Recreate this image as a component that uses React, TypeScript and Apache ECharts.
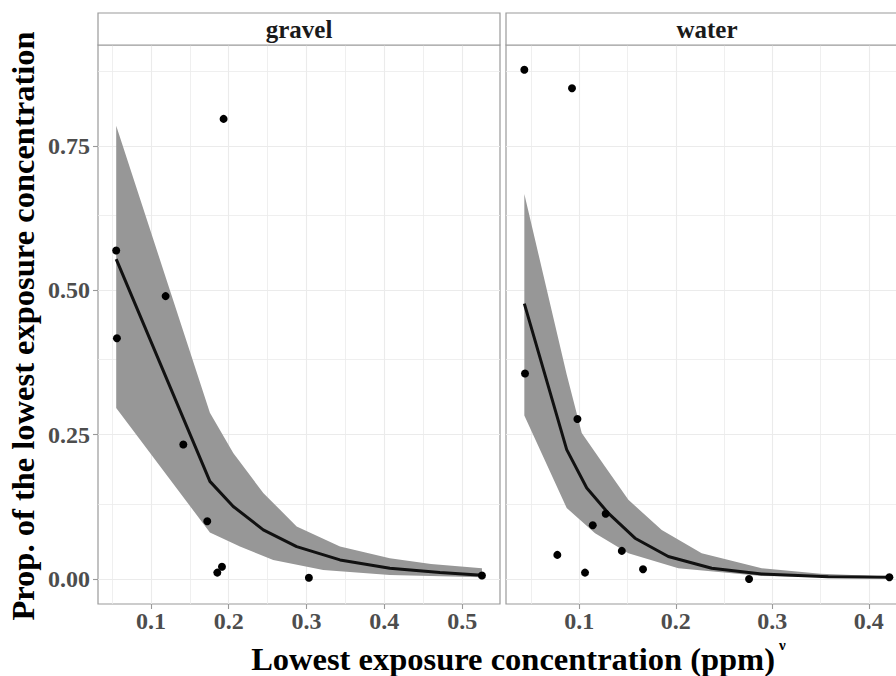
import React, { useEffect, useRef } from "react";
import * as echarts from "echarts";

// ---------- data ----------
const panels = ["gravel", "water"];

const gravelPointsX = [0.0554, 0.0563, 0.1189, 0.1416, 0.1724, 0.1853, 0.1913, 0.1934, 0.303, 0.5254];
const gravelPointsY = [0.569, 0.417, 0.49, 0.233, 0.1, 0.011, 0.021, 0.797, 0.002, 0.006];

const gravelFitX = [0.0554, 0.1758, 0.2058, 0.2444, 0.2873, 0.343, 0.407, 0.4715, 0.5254];
const gravelFitY = [0.554, 0.169, 0.1256, 0.085, 0.056, 0.033, 0.0185, 0.011, 0.0064];
const gravelUpperX = [0.0554, 0.1758, 0.2058, 0.2444, 0.2873, 0.343, 0.407, 0.46, 0.5254];
const gravelUpperY = [0.785, 0.288, 0.218, 0.149, 0.091, 0.056, 0.036, 0.026, 0.0185];
const gravelLowerX = [0.0554, 0.1758, 0.2144, 0.2572, 0.3215, 0.407, 0.5254];
const gravelLowerY = [0.296, 0.0805, 0.056, 0.033, 0.0156, 0.007, 0.003];

const waterPointsX = [0.043, 0.0924, 0.0437, 0.098, 0.1273, 0.1139, 0.0772, 0.144, 0.1059, 0.166, 0.2759, 0.4213];
const waterPointsY = [0.882, 0.85, 0.356, 0.277, 0.113, 0.093, 0.0417, 0.0486, 0.011, 0.0168, 0.0, 0.003];

const waterFitX = [0.043, 0.0869, 0.1077, 0.13, 0.1577, 0.1922, 0.2372, 0.289, 0.358, 0.4213];
const waterFitY = [0.477, 0.224, 0.1575, 0.114, 0.0706, 0.0388, 0.0185, 0.0087, 0.004, 0.003];
const waterUpperX = [0.043, 0.0869, 0.1025, 0.1266, 0.1508, 0.1854, 0.2268, 0.289, 0.35, 0.4213];
const waterUpperY = [0.667, 0.354, 0.253, 0.195, 0.137, 0.085, 0.0446, 0.0185, 0.009, 0.0043];
const waterLowerX = [0.043, 0.0869, 0.1163, 0.1508, 0.2026, 0.289, 0.4213];
const waterLowerY = [0.283, 0.1227, 0.079, 0.0446, 0.0185, 0.005, 0.002];

const yTicks = [0, 0.25, 0.5, 0.75];
const yMinor = [0.125, 0.375, 0.625, 0.875];
const gravelXTicks = [0.1, 0.2, 0.3, 0.4, 0.5];
const gravelXMinor = [0.05, 0.15, 0.25, 0.35, 0.45];
const waterXTicks = [0.1, 0.2, 0.3, 0.4];
const waterXMinor = [0.05, 0.15, 0.25, 0.35, 0.45];

const yRange = [-0.0434, 0.925];
const gravelXRange = [0.032, 0.5486];
const waterXRange = [0.024, 0.4406];

const xTitle = "Lowest exposure concentration (ppm)";
const xTitleSup = "ν";
const yTitle = "Prop. of the lowest exposure concentration";

// ---------- helpers ----------
const FONT = "'Liberation Serif', 'Times New Roman', serif";
const zip = (xs: number[], ys: number[]) => xs.map((x, i) => [x, ys[i]]);

function panelSeries(idx: number, px: number[], py: number[], fx: number[], fy: number[], ux: number[], uy: number[], lx: number[], ly: number[], xt: number[], xm: number[]) {
  const upper = zip(ux, uy);
  const lower = zip(lx, ly);
  const gridLines: any[] = [];
  [...xt, ...xm].forEach((v) => gridLines.push({ xAxis: v, lineStyle: { width: xt.includes(v) ? 1.1 : 0.8 } }));
  [...yTicks, ...yMinor].forEach((v) => gridLines.push({ yAxis: v, lineStyle: { width: yTicks.includes(v) ? 1.1 : 0.8 } }));
  return [
    {
      type: "line",
      xAxisIndex: idx,
      yAxisIndex: idx,
      data: [],
      z: 0,
      silent: true,
      markLine: {
        silent: true,
        z: 0,
        symbol: ["none", "none"],
        label: { show: false },
        lineStyle: { color: "#EBEBEB", type: "solid", width: 1 },
        data: gridLines,
        animation: false,
      },
    },
    {
      type: "custom",
      xAxisIndex: idx,
      yAxisIndex: idx,
      z: 2,
      silent: true,
      data: [[ux[0], uy[0]]],
      renderItem: (_params: any, api: any) => {
        const pts = upper.map((p) => api.coord(p)).concat(lower.slice().reverse().map((p) => api.coord(p)));
        return { type: "polygon", shape: { points: pts }, style: { fill: "#979797" } };
      },
    },
    {
      type: "line",
      xAxisIndex: idx,
      yAxisIndex: idx,
      z: 3,
      data: zip(fx, fy),
      showSymbol: false,
      symbol: "none",
      lineStyle: { color: "#111111", width: 3 },
      silent: true,
    },
    {
      type: "scatter",
      xAxisIndex: idx,
      yAxisIndex: idx,
      z: 4,
      data: zip(px, py),
      symbolSize: 8,
      itemStyle: { color: "#000000", opacity: 1 },
      silent: true,
    },
  ];
}

function xAxisDef(idx: number, range: number[], ticks: number[]) {
  return {
    type: "value",
    gridIndex: idx,
    min: range[0],
    max: range[1],
    axisLine: { show: false, onZero: false },
    splitLine: { show: false },
    axisTick: { show: true, customValues: ticks, length: 5, lineStyle: { color: "#999999", width: 1.1 } },
    axisLabel: {
      show: true,
      customValues: ticks,
      margin: 5,
      formatter: (v: number) => String(Math.round(v * 10) / 10),
      fontFamily: FONT,
      fontWeight: "bold",
      fontSize: 24,
      color: "#4D4D4D",
    },
  };
}

function yAxisDef(idx: number, showLabels: boolean) {
  return {
    type: "value",
    gridIndex: idx,
    min: yRange[0],
    max: yRange[1],
    axisLine: { show: false, onZero: false },
    splitLine: { show: false },
    axisTick: { show: showLabels, customValues: yTicks, length: 5, lineStyle: { color: "#999999", width: 1.1 } },
    axisLabel: {
      show: showLabels,
      customValues: yTicks,
      margin: 8,
      formatter: (v: number) => v.toFixed(2),
      fontFamily: FONT,
      fontWeight: "bold",
      fontSize: 24,
      color: "#4D4D4D",
    },
  };
}

export default function App() {
  const ref = useRef<HTMLDivElement>(null);
  useEffect(() => {
    if (!ref.current) return;
    const chart = echarts.init(ref.current, undefined, { renderer: "svg" });
    const gridBase = { top: 45, height: 559, width: 402, show: true, borderColor: "#9A9A9A", borderWidth: 1.2, backgroundColor: "transparent" };
    const panelLeft = [98, 506];
    const option: any = {
      animation: false,
      backgroundColor: "#ffffff",
      grid: [
        { ...gridBase, left: panelLeft[0] },
        { ...gridBase, left: panelLeft[1] },
      ],
      xAxis: [xAxisDef(0, gravelXRange, gravelXTicks), xAxisDef(1, waterXRange, waterXTicks)],
      yAxis: [yAxisDef(0, true), yAxisDef(1, false)],
      series: [
        ...panelSeries(0, gravelPointsX, gravelPointsY, gravelFitX, gravelFitY, gravelUpperX, gravelUpperY, gravelLowerX, gravelLowerY, gravelXTicks, gravelXMinor),
        ...panelSeries(1, waterPointsX, waterPointsY, waterFitX, waterFitY, waterUpperX, waterUpperY, waterLowerX, waterLowerY, waterXTicks, waterXMinor),
      ],
      graphic: [
        ...panels.map((name, i) => ({
          type: "rect",
          shape: { x: panelLeft[i], y: 13, width: 402, height: 32 },
          style: { fill: "#ffffff", stroke: "#9A9A9A", lineWidth: 1.2 },
          z: 10,
        })),
        ...panels.map((name, i) => ({
          type: "text",
          x: panelLeft[i] + 201,
          y: 29,
          z: 11,
          style: {
            text: name,
            textAlign: "center",
            textVerticalAlign: "middle",
            fontFamily: FONT,
            fontWeight: "bold",
            fontSize: 25,
            fill: "#1A1A1A",
          },
        })),
        {
          type: "text",
          x: 775,
          y: 659,
          z: 11,
          style: {
            text: xTitle,
            textAlign: "right",
            textVerticalAlign: "middle",
            fontFamily: FONT,
            fontWeight: "bold",
            fontSize: 32.5,
            fill: "#000000",
          },
        },
        {
          type: "text",
          x: 779,
          y: 645,
          z: 11,
          style: {
            text: xTitleSup,
            textAlign: "left",
            textVerticalAlign: "middle",
            fontFamily: FONT,
            fontWeight: "bold",
            fontSize: 15,
            fill: "#000000",
          },
        },
        {
          type: "text",
          x: 23,
          y: 326,
          rotation: Math.PI / 2,
          z: 11,
          style: {
            text: yTitle,
            textAlign: "center",
            textVerticalAlign: "middle",
            fontFamily: FONT,
            fontWeight: "bold",
            fontSize: 32.5,
            fill: "#000000",
          },
        },
      ],
    };
    chart.setOption(option);
    return () => chart.dispose();
  }, []);
  return <div ref={ref} style={{ position: "fixed", left: 0, top: 0, width: 920, height: 676 }} />;
}
